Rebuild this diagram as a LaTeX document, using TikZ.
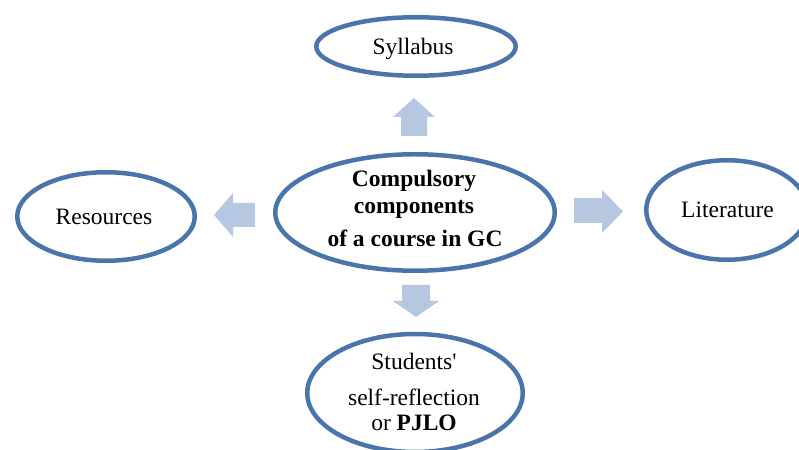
\documentclass[tikz,border=0pt]{standalone}
\usepackage{fontspec}
\setmainfont{Liberation Serif}
\newfontfamily\straightq{Liberation Serif}
\usetikzlibrary{shapes.geometric}
\definecolor{edgeblue}{RGB}{74,117,170}
\definecolor{arrowblue}{RGB}{182,199,225}
\begin{document}
\begin{tikzpicture}[x=1bp,y=-1bp,
  oval/.style={ellipse,draw=edgeblue,line width=4.5bp,fill=white,inner sep=0pt},
  txt/.style={anchor=base,inner sep=0pt,font=\fontsize{23.5bp}{28bp}\selectfont},
  blockarrow/.style={fill=arrowblue,draw=none}]
\useasboundingbox (0,0) rectangle (799,450);
% ellipses
\node[oval,minimum width=199.5bp,minimum height=58.5bp] (syl) at (416,46.5) {};
\node[oval,minimum width=279.5bp,minimum height=116.5bp] (cen) at (415,212.5) {};
\node[oval,minimum width=177.5bp,minimum height=88.5bp] (res) at (106,216.5) {};
\node[oval,minimum width=161.5bp,minimum height=99.5bp] (lit) at (727,210) {};
\node[oval,minimum width=215.5bp,minimum height=118bp] (stu) at (415,393) {};
% texts
\node[txt] (tsyl) at (413,55) {Syllabus};
\node[txt] (tres) at (104,225) {Resources};
\node[txt] (tlit) at (727.5,218) {Literature};
\node[txt,font=\fontsize{23.5bp}{28bp}\selectfont\bfseries] (tc1) at (414,187) {Compulsory};
\node[txt,font=\fontsize{23.5bp}{28bp}\selectfont\bfseries] (tc2) at (414,214) {components};
\node[txt,font=\fontsize{23.5bp}{28bp}\selectfont\bfseries] (tc3) at (415,247) {of a course in GC};
\node[txt] (ts1) at (414,370) {Students{\straightq '}};
\node[txt] (ts2) at (414,405) {self-reflection};
\node[txt] (ts3) at (414,430) {or \textbf{PJLO}};
% block arrows
\fill[blockarrow] (401,136) -- (401,117) -- (393,117) -- (414,98) -- (435,117) -- (427,117) -- (427,136) -- cycle;
\fill[blockarrow] (255,203) -- (233,203) -- (233,193) -- (214,215) -- (233,237) -- (233,227) -- (255,227) -- cycle;
\fill[blockarrow] (574,198) -- (602,198) -- (602,190) -- (623,211.5) -- (602,233) -- (602,223) -- (574,223) -- cycle;
\fill[blockarrow] (402,285) -- (430,285) -- (430,301) -- (439,301) -- (416,317) -- (393,301) -- (402,301) -- cycle;
\end{tikzpicture}
\end{document}
